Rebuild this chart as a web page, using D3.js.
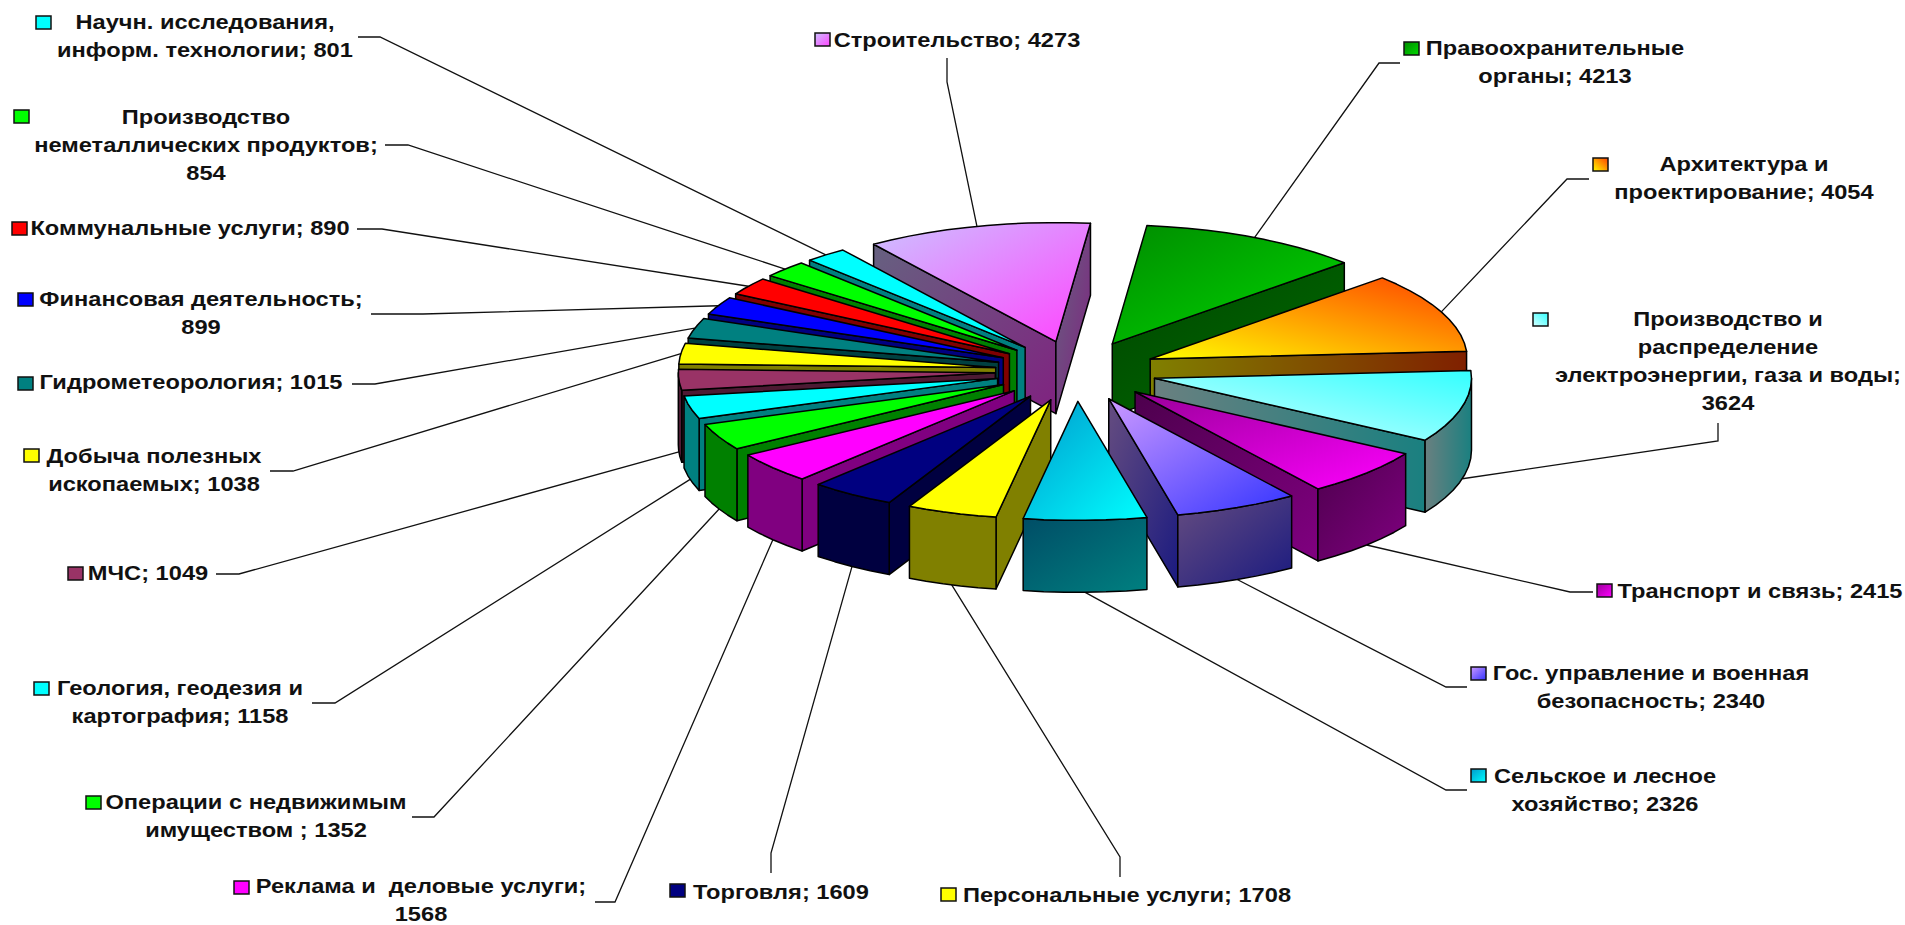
<!DOCTYPE html>
<html>
<head>
<meta charset="utf-8">
<script src="https://cdn.jsdelivr.net/npm/d3@7/dist/d3.min.js"></script>
<style>
html,body{margin:0;padding:0;background:#fff;overflow:hidden}
svg{display:block}
text{font-family:"Liberation Sans",Arial,sans-serif;font-weight:700;fill:#111;text-anchor:middle}
</style>
</head>
<body>
<svg id="c" width="1905" height="925"></svg>
<script>
// ---- data ----
const categories = [
  "Строительство","Правоохранительные органы","Архитектура и проектирование",
  "Производство и распределение электроэнергии, газа и воды","Транспорт и связь",
  "Гос. управление и военная безопасность","Сельское и лесное хозяйство","Персональные услуги",
  "Торговля","Реклама и  деловые услуги","Операции с недвижимым имуществом ",
  "Геология, геодезия и картография","МЧС","Добыча полезных ископаемых","Гидрометеорология",
  "Финансовая деятельность","Коммунальные услуги","Производство неметаллических продуктов",
  "Научн. исследования, информ. технологии"
];
const values = [4273,4213,4054,3624,2415,2340,2326,1708,1609,1568,1352,1158,1049,1038,1015,899,890,854,801];
const colorFrom = ["#ccc2ff","#008c00","#ffff00","#d4ffff","#990099","#cc99ff","#0099cc","#ffff00","#000080","#ff00ff","#00ff00","#00ffff","#993366","#ffff00","#008080","#0000ff","#ff0000","#00ff00","#00ffff"];
const colorTo   = ["#ff44ff","#00d800","#ff4000","#33ffff","#ff00ff","#3333ff","#00ffff","#ffff00","#000080","#ff00ff","#00ff00","#00ffff","#993366","#ffff00","#008080","#0000ff","#ff0000","#00ff00","#00ffff"];
// gradient direction per slice: "dn" = top-left to bottom-right, "up" = bottom-left to top-right
const gradientDir = ["dn","dn","up","up","dn","dn","dn","dn","dn","dn","dn","dn","dn","dn","dn","dn","dn","dn","dn"];

// label layout: wrapped lines, their centre x, first-line y, key box, leader route
const labelLines = [
  ["Строительство; 4273"],["Правоохранительные","органы; 4213"],["Архитектура и","проектирование; 4054"],
  ["Производство и","распределение","электроэнергии, газа и воды;","3624"],["Транспорт и связь; 2415"],
  ["Гос. управление и военная","безопасность; 2340"],["Сельское и лесное","хозяйство; 2326"],["Персональные услуги; 1708"],
  ["Торговля; 1609"],["Реклама и  деловые услуги;","1568"],["Операции с недвижимым","имуществом ; 1352"],
  ["Геология, геодезия и","картография; 1158"],["МЧС; 1049"],["Добыча полезных","ископаемых; 1038"],["Гидрометеорология; 1015"],
  ["Финансовая деятельность;","899"],["Коммунальные услуги; 890"],["Производство","неметаллических продуктов;","854"],
  ["Научн. исследования,","информ. технологии; 801"]
];
const labelX = [957,1555,1744,1728,1760,1651,1605,1127,781,421,256,180,148,154,191,201,190,206,205];
const labelY = [40,48,164,319,591,673,776,895,892,886,802,688,573,456,382,299,228,117,22];
const keyX   = [815,1404,1593,1533,1597,1471,1471,941,670,234,86,34,68,24,18,18,12,14,36];
const keyY   = [33,42,158,313,584,667,769,888,884,881,796,682,567,449,377,293,222,110,16];
const leaderRoute = [
  [[947,58],[947,82]],[[1400,63],[1379,63]],[[1589,179],[1567,179]],[[1718,423],[1718,441]],[[1593,592],[1570,592]],
  [[1467,687],[1446,687]],[[1467,790],[1446,790]],[[1120,877],[1120,857]],[[771,873],[771,853]],[[595,902],[615,902]],
  [[412,817],[434,817]],[[312,703],[335,703]],[[216,574],[239,574]],[[270,471],[293,471]],[[352,384],[375,384]],
  [[371,314],[423,314]],[[357,229],[382,229]],[[385,145],[408,145]],[[358,37],[380,37]]
];

// ---- geometry ----
const cx = 1076, cy = 371, rx = 317, ry = 119, depth = 72, explode = 0.255;
const fontSize = 21, lineGap = 28, textStretch = 1.125;
const rad = Math.PI / 180;
const px = d3.scaleLinear().domain([-1,1]).range([cx-rx,cx+rx]);
const py = d3.scaleLinear().domain([-1,1]).range([cy-ry,cy+ry]);

const slices = d3.pie().sort(null).startAngle(-35.1*rad).endAngle(324.9*rad)(values)
  .map((d,i)=>({...d,i,mid:(d.startAngle+d.endAngle)/2}));

const apex = d => [Math.sin(d.mid)*explode, -Math.cos(d.mid)*explode];
const at = (d,a,r=1,dz=0) => {
  const [ax,ay] = apex(d);
  return [px(ax + r*Math.sin(a)), py(ay - r*Math.cos(a)) + dz];
};
const line = d3.line();
const arcAngles = (a0,a1) => { const n=Math.max(2,Math.ceil((a1-a0)/(4*rad))); return d3.range(n+1).map(k=>a0+(a1-a0)*k/n); };

const half = c => { const r=d3.rgb(c); return d3.rgb(r.r*0.5,r.g*0.5,r.b*0.5).formatHex(); };

const svg = d3.select("#c");
const defs = svg.append("defs");
function grad(id,from,to,x1,y1,x2,y2){
  const g = defs.append("linearGradient").attr("id",id)
    .attr("x1",x1).attr("y1",y1).attr("x2",x2).attr("y2",y2);
  g.append("stop").attr("offset",0).attr("stop-color",from);
  g.append("stop").attr("offset",1).attr("stop-color",to);
}
slices.forEach(d=>{
  const dn = gradientDir[d.i]==="dn";
  grad("t"+d.i,colorFrom[d.i],colorTo[d.i],0,dn?0:1,1,dn?1:0);
  // walls of "up" slices run left to right
  grad("w"+d.i,half(colorFrom[d.i]),half(colorTo[d.i]),0,0,1,dn?1:0);
});

// leader lines (under the pie)
svg.append("g").selectAll("path").data(slices).join("path")
  .attr("fill","none").attr("stroke","#111").attr("stroke-width",1.3)
  .attr("d",d=>{
    const front = Math.cos(d.mid) < 0;
    return line([...leaderRoute[d.i], at(d,d.mid,1,front?depth:0)]);
  });

// pie, painted back to front
const order = slices.slice().sort((a,b)=>d3.descending(Math.cos(a.mid),Math.cos(b.mid)));
const pie = svg.append("g").attr("stroke","#000").attr("stroke-width",1.5).attr("stroke-linejoin","round");
order.forEach(d=>{
  const g = pie.append("g");
  const fillW = `url(#w${d.i})`;
  const wall = a => {
    const o=at(d,a), c=at(d,a,0);
    return line([c,o,[o[0],o[1]+depth],[c[0],c[1]+depth]])+"Z";
  };
  const norm = a => ((a%(2*Math.PI))+2*Math.PI)%(2*Math.PI);
  if (norm(d.startAngle) > Math.PI) g.append("path").attr("d",wall(d.startAngle)).attr("fill",fillW);
  if (norm(d.endAngle) < Math.PI) g.append("path").attr("d",wall(d.endAngle)).attr("fill",fillW);
  // outer wall, only the part facing the viewer
  const a0=Math.max(norm(d.startAngle)>norm(d.endAngle)?d.startAngle:norm(d.startAngle),90*rad),
        a1=Math.min(norm(d.startAngle)>norm(d.endAngle)?d.endAngle:norm(d.startAngle)+(d.endAngle-d.startAngle),270*rad);
  if (a1>a0){
    const as=arcAngles(a0,a1);
    g.append("path").attr("fill",fillW)
      .attr("d",line([...as.map(a=>at(d,a)),...as.slice().reverse().map(a=>at(d,a,1,depth))])+"Z");
  }
  // top face
  const as=arcAngles(d.startAngle,d.endAngle);
  g.append("path").attr("fill",`url(#t${d.i})`)
    .attr("d",line([at(d,0,0),...as.map(a=>at(d,a))])+"Z");
});

// labels and keys
const lab = svg.append("g").selectAll("g").data(slices).join("g");
lab.append("rect").attr("x",d=>keyX[d.i]).attr("y",d=>keyY[d.i]).attr("width",15).attr("height",13)
  .attr("fill",d=>`url(#t${d.i})`).attr("stroke","#111").attr("stroke-width",1.5);
lab.each(function(d){
  d3.select(this).selectAll("text").data(labelLines[d.i]).join("text")
    .attr("x",labelX[d.i]).attr("y",(t,k)=>labelY[d.i]+k*lineGap).attr("dy","0.31em")
    .attr("font-size",fontSize).style("white-space","pre").text(t=>t)
    .each(function(){
      const w=this.getComputedTextLength();
      d3.select(this).attr("textLength",w*textStretch).attr("lengthAdjust","spacingAndGlyphs");
    });
});
</script>
</body>
</html>
